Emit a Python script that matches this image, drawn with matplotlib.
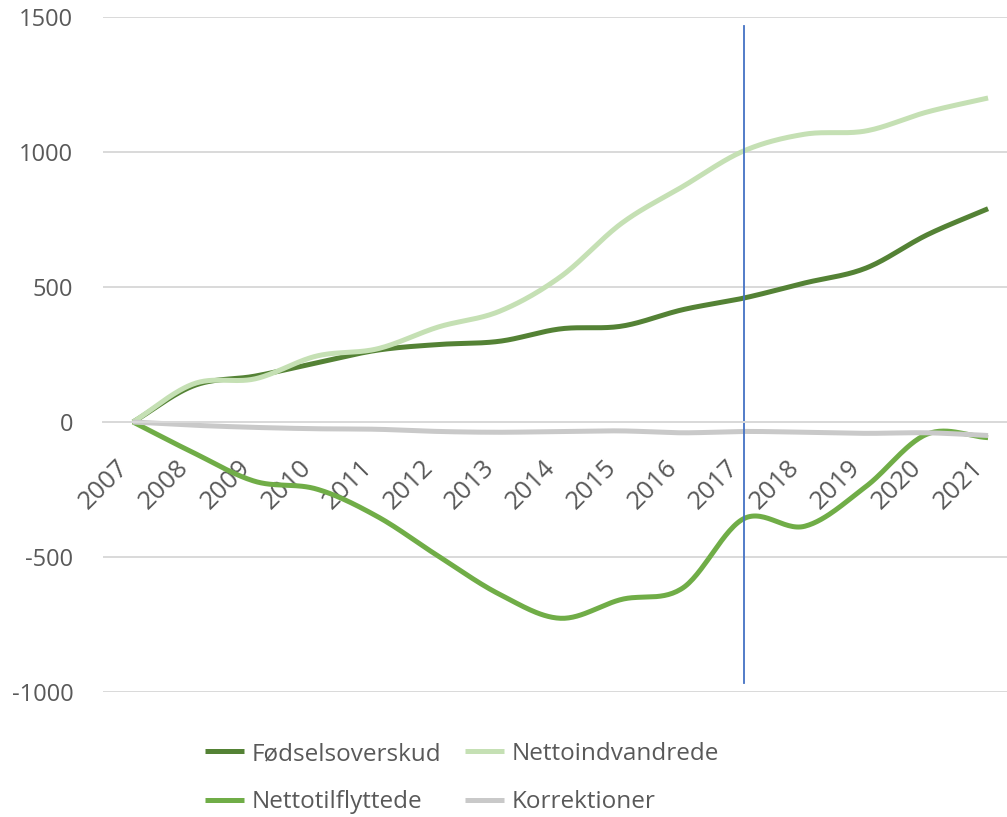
import numpy as np
import matplotlib.pyplot as plt

years = [str(y) for y in range(2007, 2022)]

foedselsoverskud = [0, 135, 170, 219, 266, 287, 299, 345, 355, 416, 459, 515, 570, 693, 790]
nettoindvandrede = [0, 142, 160, 244, 271, 352, 410, 538, 736, 872, 1004, 1066, 1078, 1148, 1200]
nettotilflyttede = [0, -115, -220, -248, -350, -497, -638, -727, -657, -615, -358, -386, -239, -45, -58]
korrektioner = [0, -12, -20, -25, -27, -35, -38, -35, -33, -40, -35, -38, -42, -40, -50]

series_names = ["Fødselsoverskud", "Nettoindvandrede", "Nettotilflyttede", "Korrektioner"]
series_colors = ["#548235", "#C5E0B4", "#70AD47", "#C9C9C9"]

marker_year = "2017"
y_ticks = [-1000, -500, 0, 500, 1000, 1500]

TEXT = "#595959"
FONT = ["Open Sans", "DejaVu Sans"]


def smooth(y, n=30):
    # catmull-rom style smoothing, roughly what Excel does with "smoothed line"
    y = np.asarray(y, dtype=float)
    x = np.arange(len(y), dtype=float)
    m = np.zeros_like(y)
    m[1:-1] = (y[2:] - y[:-2]) / 2
    m[0] = y[1] - y[0]
    m[-1] = y[-1] - y[-2]
    xs, ys = [], []
    t = np.linspace(0, 1, n, endpoint=False)
    for i in range(len(y) - 1):
        p0, p3 = y[i], y[i + 1]
        p1 = p0 + m[i] / 3
        p2 = p3 - m[i + 1] / 3
        b = ((1 - t) ** 3) * p0 + 3 * ((1 - t) ** 2) * t * p1 + 3 * (1 - t) * t ** 2 * p2 + t ** 3 * p3
        xs.append(x[i] + t)
        ys.append(b)
    xs.append([x[-1]])
    ys.append([y[-1]])
    return np.concatenate(xs), np.concatenate(ys)


plt.rcParams['font.family'] = FONT
plt.rcParams['axes.unicode_minus'] = False

fig = plt.figure(figsize=(10.07, 8.17), dpi=100)
ax = fig.add_axes([102.5 / 1007, 1 - 692 / 817, 1 - 102.5 / 1007, (692 - 17) / 817])

ax.set_ylim(-1000, 1500)
ax.set_xlim(-0.5, 14.31)
ax.set_yticks(y_ticks)
ax.grid(axis="y", color="#D9D9D9", linewidth=1.4)
ax.set_axisbelow(True)

for sp in ["top", "right", "left"]:
    ax.spines[sp].set_visible(False)
ax.spines["bottom"].set_position(("data", 0))
ax.spines["bottom"].set_color("#D9D9D9")
ax.spines["bottom"].set_linewidth(1.4)

handles = {}
for vals, name, col in zip([foedselsoverskud, nettoindvandrede, nettotilflyttede, korrektioner],
                           series_names, series_colors):
    xs, ys = smooth(vals)
    h, = ax.plot(xs, ys, color=col, linewidth=3.6, solid_capstyle="butt", label=name)
    handles[name] = h

xi = years.index(marker_year)
ax.plot([xi, xi], [1465, -965], color="#4472C4", linewidth=1.3)

ax.set_xticks(range(len(years)))
ax.set_xticklabels(years)
ax.tick_params(axis="x", length=0, pad=24, labelsize=18.5, labelcolor=TEXT)
ax.tick_params(axis="y", length=0, pad=21, labelsize=17, labelcolor=TEXT)
plt.setp(ax.get_xticklabels(), rotation=45, ha="right")

# legend is filled column by column, so order it to read row-wise like the original
order = ["Fødselsoverskud", "Nettotilflyttede", "Nettoindvandrede", "Korrektioner"]
fig.legend(handles=[handles[k] for k in order], ncol=2, loc="upper left",
           bbox_to_anchor=(205 / 1007, 1 - 742 / 817),
           frameon=False, fontsize=17.5, labelcolor=TEXT,
           handlelength=1.6, handletextpad=0.3, columnspacing=1.0,
           labelspacing=1.0, borderpad=0, borderaxespad=0)

fig.savefig("out.png", dpi=100)
